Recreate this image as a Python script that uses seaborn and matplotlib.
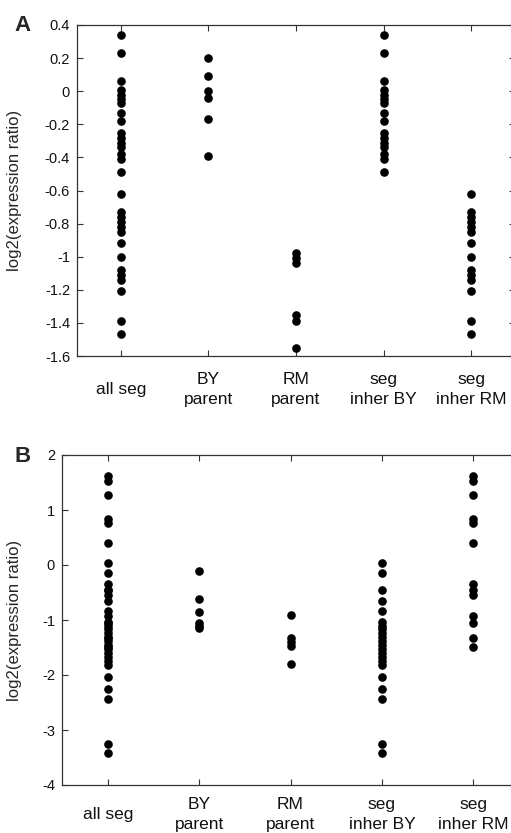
import numpy as np
import pandas as pd
import matplotlib
matplotlib.use("Agg")
import matplotlib.pyplot as plt
import seaborn as sns

sns.set_style("ticks")
plt.rcParams["font.family"] = ["Liberation Sans", "DejaVu Sans"]

categories = ["all seg", "BY\nparent", "RM\nparent", "seg\ninher BY", "seg\ninher RM"]

# ---- panel A values (log2 expression ratio) ----
seg_by_a = [0.34, 0.23, 0.06, 0.01, -0.02, -0.05, -0.07, -0.13, -0.18,
            -0.25, -0.28, -0.31, -0.34, -0.38, -0.41, -0.49]
seg_rm_a = [-0.62, -0.73, -0.76, -0.79, -0.82, -0.85, -0.92, -1.0,
            -1.08, -1.11, -1.14, -1.21, -1.39, -1.47]
by_parent_a = [0.20, 0.09, 0.0, -0.04, -0.17, -0.39]
rm_parent_a = [-0.98, -1.01, -1.04, -1.35, -1.39, -1.55]

# ---- panel B values ----
seg_by_b = [0.03, -0.15, -0.45, -0.65, -0.83, -1.03, -1.10, -1.17, -1.24,
            -1.31, -1.38, -1.45, -1.52, -1.60, -1.67, -1.75, -1.82,
            -2.04, -2.25, -2.44, -3.25, -3.41]
seg_rm_b = [1.62, 1.52, 1.27, 0.83, 0.76, 0.40, -0.35, -0.45, -0.55,
            -0.93, -1.05, -1.33, -1.49]
by_parent_b = [-0.10, -0.62, -0.86, -1.05, -1.10, -1.15]
rm_parent_b = [-0.90, -1.33, -1.40, -1.48, -1.80]

yticks_a = [0.4, 0.2, 0, -0.2, -0.4, -0.6, -0.8, -1, -1.2, -1.4, -1.6]
yticks_b = [2, 1, 0, -1, -2, -3, -4]


def long_frame(seg_by, seg_rm, by_par, rm_par):
    groups = [seg_by + seg_rm, by_par, rm_par, seg_by, seg_rm]
    rows = []
    for cat, vals in zip(categories, groups):
        rows += [(cat, v) for v in vals]
    return pd.DataFrame(rows, columns=["group", "value"])


def fmt(v):
    return f"{v:g}"


fig = plt.figure(figsize=(5.11, 8.33), dpi=100)
ax_a = fig.add_axes([77 / 511, 1 - 356 / 833, (515 - 77) / 511, 331 / 833])
ax_b = fig.add_axes([62 / 511, 1 - 785 / 833, (519 - 62) / 511, 330 / 833])

panels = [
    (ax_a, long_frame(seg_by_a, seg_rm_a, by_parent_a, rm_parent_a), yticks_a, 24),
    (ax_b, long_frame(seg_by_b, seg_rm_b, by_parent_b, rm_parent_b), yticks_b, 21),
]

for ax, df, yt, pad in panels:
    sns.stripplot(data=df, x="group", y="value", order=categories, jitter=False,
                  color="black", size=6.2, linewidth=0, ax=ax)
    ax.set_xlim(-0.5, 4.5)
    ax.set_ylim(min(yt), max(yt))
    ax.set_yticks(yt)
    ax.set_yticklabels([fmt(v) for v in yt])
    ax.set_xlabel("")
    ax.set_ylabel("log2(expression ratio)", fontsize=12)
    ax.tick_params(direction="in", top=True, right=True, length=4,
                   width=0.8, color="#333333", labelcolor="#111111")
    ax.tick_params(axis="y", labelsize=10.5, pad=5)
    ax.tick_params(axis="x", labelsize=12.5, pad=pad)
    for lab in ax.get_xticklabels():
        lab.set_va("center")
        lab.set_linespacing(1.4)
    for sp in ax.spines.values():
        sp.set_visible(True)
        sp.set_color("#333333")
        sp.set_linewidth(0.9)
    pos = ax.get_position()
    ax.yaxis.set_label_coords(-(pos.x0 * 511 - 22) / (pos.width * 511), 0.5)

fig.text(14 / 511, 1 - 31 / 833, "A", fontsize=16, fontweight="bold", va="baseline")
fig.text(14 / 511, 1 - 462 / 833, "B", fontsize=16, fontweight="bold", va="baseline")

fig.savefig("out.png", dpi=100)
